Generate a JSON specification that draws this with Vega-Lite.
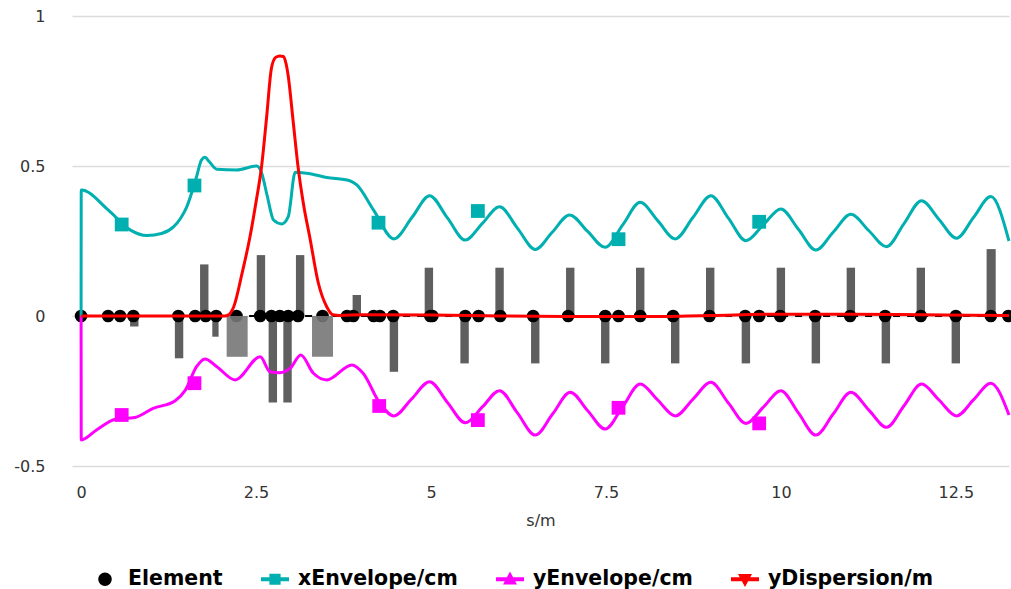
{
  "$schema": "https://vega.github.io/schema/vega-lite/v6.json",
  "width": 937,
  "height": 450,
  "autosize": {"type": "none"},
  "padding": {"left": 72, "top": 16, "right": 2, "bottom": 123},
  "config": {
    "view": {"stroke": null},
    "axis": {"labelFont": "DejaVu Sans", "titleFont": "DejaVu Sans", "labelFontSize": 16, "labelColor": "#333", "titleColor": "#333"}
  },
  "datasets": {
    "xenv": [
      {"s": 0, "v": 0}, {"s": 0.002, "v": 0.42}, {"s": 0.39, "v": 0.353}, {"s": 0.7, "v": 0.287}, {"s": 0.94, "v": 0.268},
      {"s": 1.15, "v": 0.275}, {"s": 1.32, "v": 0.297}, {"s": 1.42, "v": 0.325}, {"s": 1.51, "v": 0.364}, {"s": 1.65, "v": 0.464},
      {"s": 1.72, "v": 0.52}, {"s": 1.77, "v": 0.529}, {"s": 1.83, "v": 0.515}, {"s": 1.94, "v": 0.489}, {"s": 2.22, "v": 0.487},
      {"s": 2.51, "v": 0.5}, {"s": 2.58, "v": 0.477}, {"s": 2.66, "v": 0.4}, {"s": 2.75, "v": 0.32}, {"s": 2.87, "v": 0.307},
      {"s": 2.96, "v": 0.331}, {"s": 3.06, "v": 0.479}, {"s": 3.22, "v": 0.476}, {"s": 3.51, "v": 0.462}, {"s": 3.84, "v": 0.451},
      {"s": 3.94, "v": 0.437}, {"s": 4.18, "v": 0.353}, {"s": 4.47, "v": 0.257}, {"s": 4.73, "v": 0.329}, {"s": 4.98, "v": 0.401},
      {"s": 5.235, "v": 0.327}, {"s": 5.49, "v": 0.253}, {"s": 5.735, "v": 0.309}, {"s": 5.98, "v": 0.364}, {"s": 6.235, "v": 0.293},
      {"s": 6.49, "v": 0.222}, {"s": 6.735, "v": 0.28}, {"s": 6.98, "v": 0.337}, {"s": 7.235, "v": 0.283}, {"s": 7.49, "v": 0.229},
      {"s": 7.74, "v": 0.304}, {"s": 7.99, "v": 0.379}, {"s": 8.24, "v": 0.318}, {"s": 8.49, "v": 0.257}, {"s": 8.745, "v": 0.329},
      {"s": 9.0, "v": 0.401}, {"s": 9.25, "v": 0.326}, {"s": 9.5, "v": 0.251}, {"s": 9.75, "v": 0.304}, {"s": 10.0, "v": 0.357},
      {"s": 10.25, "v": 0.289}, {"s": 10.5, "v": 0.22}, {"s": 10.75, "v": 0.28}, {"s": 11.0, "v": 0.339}, {"s": 11.255, "v": 0.285},
      {"s": 11.51, "v": 0.231}, {"s": 11.76, "v": 0.308}, {"s": 12.01, "v": 0.384}, {"s": 12.26, "v": 0.322}, {"s": 12.51, "v": 0.259},
      {"s": 12.755, "v": 0.329}, {"s": 13.0, "v": 0.398}, {"s": 13.26, "v": 0.25}
    ],
    "yenv": [
      {"s": 0, "v": 0}, {"s": 0.002, "v": -0.413}, {"s": 0.22, "v": -0.38}, {"s": 0.49, "v": -0.344}, {"s": 0.77, "v": -0.338},
      {"s": 1.03, "v": -0.308}, {"s": 1.34, "v": -0.283}, {"s": 1.49, "v": -0.247}, {"s": 1.65, "v": -0.169}, {"s": 1.77, "v": -0.143},
      {"s": 1.94, "v": -0.169}, {"s": 2.2, "v": -0.213}, {"s": 2.56, "v": -0.136}, {"s": 2.7, "v": -0.186}, {"s": 2.84, "v": -0.189},
      {"s": 2.99, "v": -0.174}, {"s": 3.14, "v": -0.13}, {"s": 3.32, "v": -0.191}, {"s": 3.51, "v": -0.213}, {"s": 3.87, "v": -0.163},
      {"s": 4.03, "v": -0.191}, {"s": 4.27, "v": -0.291}, {"s": 4.47, "v": -0.333}, {"s": 4.725, "v": -0.276}, {"s": 4.98, "v": -0.219},
      {"s": 5.235, "v": -0.288}, {"s": 5.49, "v": -0.356}, {"s": 5.735, "v": -0.303}, {"s": 5.98, "v": -0.249}, {"s": 6.235, "v": -0.323},
      {"s": 6.49, "v": -0.397}, {"s": 6.74, "v": -0.326}, {"s": 6.99, "v": -0.254}, {"s": 7.24, "v": -0.316}, {"s": 7.49, "v": -0.377},
      {"s": 7.74, "v": -0.302}, {"s": 7.99, "v": -0.227}, {"s": 8.24, "v": -0.28}, {"s": 8.49, "v": -0.333}, {"s": 8.745, "v": -0.277},
      {"s": 9.0, "v": -0.221}, {"s": 9.25, "v": -0.29}, {"s": 9.5, "v": -0.358}, {"s": 9.75, "v": -0.304}, {"s": 10.0, "v": -0.249},
      {"s": 10.25, "v": -0.323}, {"s": 10.5, "v": -0.397}, {"s": 10.75, "v": -0.326}, {"s": 11.0, "v": -0.254}, {"s": 11.255, "v": -0.313},
      {"s": 11.51, "v": -0.371}, {"s": 11.76, "v": -0.299}, {"s": 12.01, "v": -0.227}, {"s": 12.26, "v": -0.28}, {"s": 12.51, "v": -0.333},
      {"s": 12.755, "v": -0.279}, {"s": 13.0, "v": -0.224}, {"s": 13.26, "v": -0.33}
    ],
    "disp": [
      {"s": 0, "v": 0}, {"s": 1.0, "v": 0}, {"s": 2.05, "v": 0}, {"s": 2.1, "v": 0.003}, {"s": 2.18, "v": 0.03},
      {"s": 2.3, "v": 0.142}, {"s": 2.41, "v": 0.26}, {"s": 2.5, "v": 0.38}, {"s": 2.58, "v": 0.5}, {"s": 2.65, "v": 0.66},
      {"s": 2.72, "v": 0.826}, {"s": 2.78, "v": 0.862}, {"s": 2.84, "v": 0.867}, {"s": 2.89, "v": 0.865}, {"s": 2.93, "v": 0.84},
      {"s": 2.96, "v": 0.8}, {"s": 3.03, "v": 0.65}, {"s": 3.1, "v": 0.498}, {"s": 3.18, "v": 0.37}, {"s": 3.27, "v": 0.26},
      {"s": 3.39, "v": 0.11}, {"s": 3.51, "v": 0.031}, {"s": 3.6, "v": 0.004}, {"s": 3.7, "v": 0.002}, {"s": 4.0, "v": 0.004},
      {"s": 5.0, "v": 0.003}, {"s": 6.0, "v": 0.0}, {"s": 7.0, "v": -0.002}, {"s": 8.0, "v": -0.002}, {"s": 9.0, "v": 0.002},
      {"s": 10.0, "v": 0.006}, {"s": 11.0, "v": 0.006}, {"s": 12.0, "v": 0.004}, {"s": 13.26, "v": 0.002}
    ],
    "xmark": [
      {"s": 0.58, "v": 0.305}, {"s": 1.62, "v": 0.435}, {"s": 4.25, "v": 0.311}, {"s": 5.67, "v": 0.35}, {"s": 7.68, "v": 0.256}, {"s": 9.69, "v": 0.314}
    ],
    "ymark": [
      {"s": 0.58, "v": -0.33}, {"s": 1.62, "v": -0.224}, {"s": 4.26, "v": -0.3}, {"s": 5.67, "v": -0.347}, {"s": 7.68, "v": -0.306}, {"s": 9.69, "v": -0.358}
    ],
    "elements": [
      {"s": 0}, {"s": 0.386}, {"s": 0.557}, {"s": 0.747}, {"s": 1.39}, {"s": 1.63}, {"s": 1.78}, {"s": 1.93}, {"s": 2.22},
      {"s": 2.56}, {"s": 2.72}, {"s": 2.84}, {"s": 2.96}, {"s": 3.1}, {"s": 3.45}, {"s": 3.8}, {"s": 3.89}, {"s": 4.18},
      {"s": 4.27}, {"s": 4.46}, {"s": 4.99}, {"s": 5.02}, {"s": 5.49}, {"s": 5.68}, {"s": 5.99}, {"s": 6.46}, {"s": 6.96},
      {"s": 7.49}, {"s": 7.68}, {"s": 7.99}, {"s": 8.46}, {"s": 8.98}, {"s": 9.49}, {"s": 9.69}, {"s": 9.99}, {"s": 10.49},
      {"s": 10.99}, {"s": 11.49}, {"s": 12.0}, {"s": 12.5}, {"s": 13.0}, {"s": 13.25}
    ],
    "quads": [
      {"s": 0.7, "s2": 0.82, "v": -0.035}, {"s": 1.34, "s2": 1.46, "v": -0.141}, {"s": 1.7, "s2": 1.82, "v": 0.172},
      {"s": 1.875, "s2": 1.965, "v": -0.069}, {"s": 2.51, "s2": 2.63, "v": 0.203}, {"s": 2.68, "s2": 2.8, "v": -0.288},
      {"s": 2.89, "s2": 3.01, "v": -0.288}, {"s": 3.07, "s2": 3.19, "v": 0.203}, {"s": 3.88, "s2": 4.0, "v": 0.07},
      {"s": 4.41, "s2": 4.53, "v": -0.186}, {"s": 4.91, "s2": 5.03, "v": 0.161}, {"s": 5.42, "s2": 5.54, "v": -0.158},
      {"s": 5.92, "s2": 6.04, "v": 0.161}, {"s": 6.43, "s2": 6.55, "v": -0.158}, {"s": 6.93, "s2": 7.05, "v": 0.161},
      {"s": 7.43, "s2": 7.55, "v": -0.158}, {"s": 7.93, "s2": 8.05, "v": 0.161}, {"s": 8.43, "s2": 8.55, "v": -0.158},
      {"s": 8.93, "s2": 9.05, "v": 0.161}, {"s": 9.44, "s2": 9.56, "v": -0.158}, {"s": 9.94, "s2": 10.06, "v": 0.161},
      {"s": 10.44, "s2": 10.56, "v": -0.158}, {"s": 10.94, "s2": 11.06, "v": 0.161}, {"s": 11.44, "s2": 11.56, "v": -0.158},
      {"s": 11.94, "s2": 12.06, "v": 0.161}, {"s": 12.44, "s2": 12.56, "v": -0.158}, {"s": 12.94, "s2": 13.07, "v": 0.223}
    ],
    "dipoles": [
      {"s": 2.08, "s2": 2.38, "v": -0.136}, {"s": 3.3, "s2": 3.6, "v": -0.136}
    ],
    "legend": [
      {"series": "Element"}, {"series": "xEnvelope/cm"}, {"series": "yEnvelope/cm"}, {"series": "yDispersion/m"}
    ]
  },
  "encoding": {
    "x": {
      "field": "s", "type": "quantitative",
      "scale": {"domain": [-0.13, 13.26], "nice": false, "zero": false},
      "axis": {"values": [0, 2.5, 5, 7.5, 10, 12.5], "labelExpr": "datum.value", "grid": false, "domain": false, "ticks": false, "labelPadding": 18, "title": "s/m", "titleFontSize": 16, "titleFontWeight": "normal", "titlePadding": 12}
    }
  },
  "layer": [
    {
      "data": {"name": "quads"},
      "mark": {"type": "rect", "color": "#5f5f5f", "opacity": 1},
      "encoding": {
        "y": {
          "field": "v", "type": "quantitative",
          "scale": {"domain": [-0.5, 1], "nice": false, "zero": false},
          "axis": {"values": [-0.5, 0, 0.5, 1], "labelExpr": "datum.value", "grid": true, "gridColor": "#dcdcdc", "gridWidth": 1.5, "domain": false, "ticks": false, "labelPadding": 27, "title": null}
        },
        "x2": {"field": "s2"}, "y2": {"datum": 0}
      }
    },
    {
      "data": {"values": [{"s": 0, "s2": 13.26}]},
      "mark": {"type": "rule", "color": "black", "strokeWidth": 2, "strokeDash": [7, 7]},
      "encoding": {"x2": {"field": "s2"}, "y": {"datum": 0, "type": "quantitative"}}
    },
    {
      "data": {"name": "elements"},
      "mark": {"type": "circle", "size": 160, "color": "black", "opacity": 1},
      "encoding": {"y": {"datum": 0, "type": "quantitative"}}
    },
    {
      "data": {"name": "dipoles"},
      "mark": {"type": "rect", "color": "#777777", "opacity": 0.9},
      "encoding": {"y": {"field": "v", "type": "quantitative", "scale": {"domain": [-0.5, 1], "nice": false, "zero": false}}, "x2": {"field": "s2"}, "y2": {"datum": 0}}
    },
    {
      "data": {"name": "xenv"},
      "mark": {"type": "line", "color": "#00AFAF", "strokeWidth": 3, "interpolate": "monotone"},
      "encoding": {"y": {"field": "v", "type": "quantitative", "scale": {"domain": [-0.5, 1], "nice": false, "zero": false}}}
    },
    {
      "data": {"name": "yenv"},
      "mark": {"type": "line", "color": "#FF00FF", "strokeWidth": 3, "interpolate": "monotone"},
      "encoding": {"y": {"field": "v", "type": "quantitative", "scale": {"domain": [-0.5, 1], "nice": false, "zero": false}}}
    },
    {
      "data": {"name": "xmark"},
      "mark": {"type": "square", "size": 190, "color": "#00AFAF", "opacity": 1},
      "encoding": {"y": {"field": "v", "type": "quantitative", "scale": {"domain": [-0.5, 1], "nice": false, "zero": false}}}
    },
    {
      "data": {"name": "ymark"},
      "mark": {"type": "square", "size": 190, "color": "#FF00FF", "opacity": 1},
      "encoding": {"y": {"field": "v", "type": "quantitative", "scale": {"domain": [-0.5, 1], "nice": false, "zero": false}}}
    },
    {
      "data": {"name": "disp"},
      "mark": {"type": "line", "color": "#FF0000", "strokeWidth": 3, "interpolate": "monotone"},
      "encoding": {"y": {"field": "v", "type": "quantitative", "scale": {"domain": [-0.5, 1], "nice": false, "zero": false}}}
    },
    {
      "data": {"name": "legend"},
      "transform": [{"filter": "false"}],
      "mark": {"type": "point", "filled": true, "opacity": 1},
      "encoding": {
        "x": {"value": 0},
        "y": {"value": 0},
        "color": {
          "field": "series", "type": "nominal",
          "scale": {"domain": ["Element", "xEnvelope/cm", "yEnvelope/cm", "yDispersion/m"], "range": ["#000000", "#00AFAF", "#FF00FF", "#FF0000"]},
          "legend": {
            "title": null, "orient": "none", "direction": "horizontal", "legendX": 19, "legendY": 549,
            "labelFont": "DejaVu Sans", "labelFontSize": 20.5, "labelFontWeight": "bold", "labelColor": "#000", "labelLimit": 400,
            "symbolSize": 784, "symbolStrokeWidth": 0, "labelOffset": 9, "columnPadding": 38, "padding": 0
          }
        },
        "shape": {
          "field": "series", "type": "nominal",
          "scale": {"domain": ["Element", "xEnvelope/cm", "yEnvelope/cm", "yDispersion/m"], "range": [
            "M-0.48,0A0.48,0.48,0,1,1,0.48,0A0.48,0.48,0,1,1,-0.48,0Z",
            "M-1,-0.15H1V0.15H-1Z M-0.4,-0.4H0.4V0.4H-0.4Z",
            "M-1,-0.15H1V0.15H-1Z M0,-0.55L0.5,0.38L-0.5,0.38Z",
            "M-1,-0.15H1V0.15H-1Z M-0.5,-0.38L0.5,-0.38L0,0.55Z"
          ]},
          "legend": {
            "title": null, "orient": "none", "direction": "horizontal", "legendX": 19, "legendY": 549,
            "labelFont": "DejaVu Sans", "labelFontSize": 20.5, "labelFontWeight": "bold", "labelColor": "#000", "labelLimit": 400,
            "symbolSize": 784, "symbolStrokeWidth": 0, "labelOffset": 9, "columnPadding": 38, "padding": 0
          }
        }
      }
    }
  ]
}
